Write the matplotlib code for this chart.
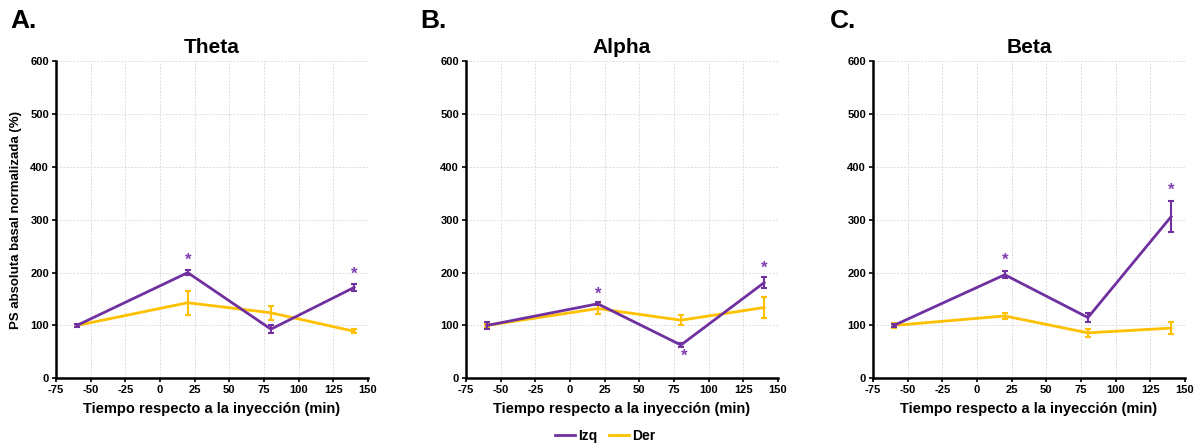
import matplotlib
matplotlib.use("Agg")
import matplotlib.pyplot as plt
from matplotlib.lines import Line2D

plt.rcParams['font.family'] = ['Liberation Sans', 'DejaVu Sans']
plt.rcParams['axes.unicode_minus'] = False

times = [-60, 20, 80, 140]
panel_labels = ["A.", "B.", "C."]
band_titles = ["Theta", "Alpha", "Beta"]

theta_izq = [100, 200, 93, 172]
theta_izq_err = [2, 5, 8, 7]
theta_der = [100, 143, 124, 89]
theta_der_err = [2, 23, 13, 4]
theta_star_x = [20, 140]
theta_star_y = [223, 196]

alpha_izq = [100, 141, 63, 181]
alpha_izq_err = [6, 3, 3, 10]
alpha_der = [100, 132, 110, 134]
alpha_der_err = [3, 11, 9, 19]
alpha_star_x = [20, 82, 140]
alpha_star_y = [160, 42, 209]

beta_izq = [100, 196, 115, 306]
beta_izq_err = [3, 7, 9, 29]
beta_der = [100, 118, 86, 95]
beta_der_err = [4, 5, 8, 12]
beta_star_x = [20, 140]
beta_star_y = [223, 356]

series = [
    (theta_izq, theta_izq_err, theta_der, theta_der_err, theta_star_x, theta_star_y),
    (alpha_izq, alpha_izq_err, alpha_der, alpha_der_err, alpha_star_x, alpha_star_y),
    (beta_izq, beta_izq_err, beta_der, beta_der_err, beta_star_x, beta_star_y),
]

xticks = [-75, -50, -25, 0, 25, 50, 75, 100, 125, 150]
yticks = [0, 100, 200, 300, 400, 500, 600]

PURPLE = "#7030A0"
YELLOW = "#FFC000"

fig = plt.figure(figsize=(12.01, 4.46), dpi=100)
lefts = [56, 466, 873]
label_x = [10, 420, 830]
W = 1201.0
H = 446.0
for i in range(3):
    ax = fig.add_axes([lefts[i] / W, (H - 378.3) / H, 312 / W, 317 / H])
    izq, izq_e, der, der_e, sx, sy = series[i]
    ax.errorbar(times, der, yerr=der_e, color=YELLOW, lw=2, capsize=2.5,
                capthick=1.5, elinewidth=1.5, zorder=3)
    ax.errorbar(times, izq, yerr=izq_e, color=PURPLE, lw=2, capsize=2.5,
                capthick=1.5, elinewidth=1.5, zorder=4)
    for x, y in zip(sx, sy):
        ax.text(x, y, "*", color="#8040B0", ha="center", va="center",
                fontsize=12, fontweight="bold", zorder=5)
    ax.set_xlim(-75, 150)
    ax.set_ylim(0, 600)
    ax.set_xticks(xticks)
    ax.set_yticks(yticks)
    ax.grid(True, color="#dcdcdc", lw=0.7, ls=(0, (2, 1.5)))
    ax.set_axisbelow(True)
    for s in ["top", "right"]:
        ax.spines[s].set_visible(False)
    for s in ["left", "bottom"]:
        ax.spines[s].set_linewidth(1.8)
        ax.spines[s].set_color("black")
    ax.tick_params(axis="both", direction="out", length=3, width=1.2,
                   labelsize=8, pad=2)
    for lab in ax.get_xticklabels() + ax.get_yticklabels():
        lab.set_fontweight("bold")
    ax.set_xlabel("Tiempo respecto a la inyección (min)", fontsize=10.5,
                  fontweight="bold", labelpad=5)
    ax.set_title(band_titles[i], fontsize=15, fontweight="bold", pad=6)
    if i == 0:
        ax.set_ylabel("PS absoluta basal normalizada (%)", fontsize=9.5,
                      fontweight="bold", labelpad=6)
    fig.text(label_x[i] / W, 1 - 21 / H, panel_labels[i], fontsize=19,
             fontweight="bold", ha="left", va="center")

handles = [Line2D([0], [0], color=PURPLE, lw=2),
           Line2D([0], [0], color=YELLOW, lw=2)]
fig.legend(handles, ["Izq", "Der"], loc="center", bbox_to_anchor=(605 / W, 1 - 436 / H),
           ncol=2, frameon=False, prop={"weight": "bold", "size": 10},
           handlelength=1.5, handletextpad=0.2, columnspacing=0.8)

fig.savefig("out.png", dpi=100)
